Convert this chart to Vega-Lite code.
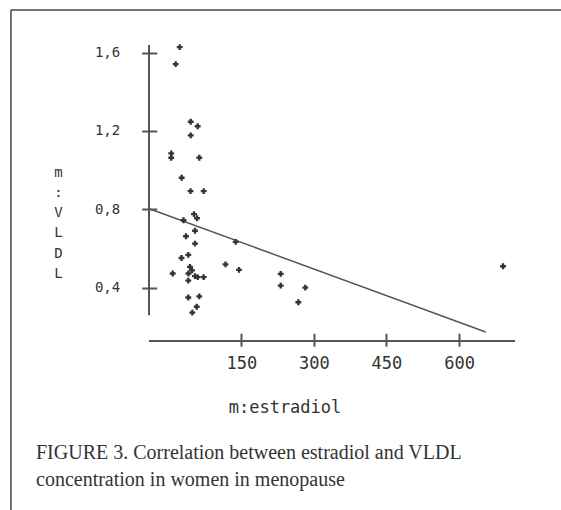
{
  "$schema": "https://vega.github.io/schema/vega-lite/v6.json",
  "width": 366,
  "height": 296,
  "autosize": {"type": "none"},
  "padding": {"left": 149, "top": 45, "right": 46, "bottom": 169},
  "background": "white",
  "config": {"view": {"stroke": null}},
  "title": {
    "text": ["FIGURE 3. Correlation between estradiol and VLDL", "concentration in women in menopause"],
    "orient": "bottom",
    "anchor": "start",
    "frame": "group",
    "font": "Liberation Serif",
    "fontSize": 20,
    "fontWeight": "normal",
    "color": "#333333",
    "lineHeight": 27,
    "dx": -113,
    "offset": 0,
    "dy": -68
  },
  "datasets": {
    "points": [
      {"estradiol": 22.7, "vldl": 1.628},
      {"estradiol": 14.5, "vldl": 1.541},
      {"estradiol": 45.5, "vldl": 1.247},
      {"estradiol": 59.9, "vldl": 1.224},
      {"estradiol": 45.5, "vldl": 1.177},
      {"estradiol": 5.2, "vldl": 1.085},
      {"estradiol": 5.2, "vldl": 1.063},
      {"estradiol": 63.2, "vldl": 1.063},
      {"estradiol": 26.9, "vldl": 0.961},
      {"estradiol": 45.1, "vldl": 0.893},
      {"estradiol": 72.3, "vldl": 0.893},
      {"estradiol": 52.3, "vldl": 0.775},
      {"estradiol": 58.5, "vldl": 0.754},
      {"estradiol": 30.6, "vldl": 0.744},
      {"estradiol": 54.4, "vldl": 0.69},
      {"estradiol": 35.8, "vldl": 0.662},
      {"estradiol": 54.4, "vldl": 0.624},
      {"estradiol": 138.5, "vldl": 0.633},
      {"estradiol": 40.5, "vldl": 0.567},
      {"estradiol": 26.5, "vldl": 0.551},
      {"estradiol": 44.0, "vldl": 0.506},
      {"estradiol": 48.2, "vldl": 0.488},
      {"estradiol": 40.9, "vldl": 0.472},
      {"estradiol": 8.3, "vldl": 0.472},
      {"estradiol": 54.4, "vldl": 0.458},
      {"estradiol": 59.9, "vldl": 0.453},
      {"estradiol": 72.3, "vldl": 0.453},
      {"estradiol": 40.5, "vldl": 0.435},
      {"estradiol": 117.4, "vldl": 0.518},
      {"estradiol": 145.3, "vldl": 0.49},
      {"estradiol": 231.5, "vldl": 0.47},
      {"estradiol": 231.5, "vldl": 0.41},
      {"estradiol": 282.3, "vldl": 0.4},
      {"estradiol": 267.9, "vldl": 0.325},
      {"estradiol": 691.0, "vldl": 0.509},
      {"estradiol": 40.5, "vldl": 0.349},
      {"estradiol": 63.2, "vldl": 0.355},
      {"estradiol": 57.9, "vldl": 0.302},
      {"estradiol": 48.8, "vldl": 0.272}
    ],
    "fit": [
      {"estradiol": -38.7, "vldl": 0.8015},
      {"estradiol": 655.2, "vldl": 0.173}
    ],
    "one": [{}]
  },
  "layer": [
    {
      "data": {"name": "one"},
      "mark": {"type": "rule", "color": "#444444", "strokeWidth": 1.5},
      "encoding": {
        "x": {"datum": -326, "type": "quantitative", "scale": {"domain": [-40.7, 715.7], "nice": false, "zero": false}},
        "y": {"datum": 1.818, "type": "quantitative", "scale": {"domain": [0.127, 1.639], "nice": false, "zero": false}},
        "y2": {"datum": -0.74}
      }
    },
    {
      "data": {"name": "one"},
      "mark": {"type": "rule", "color": "#444444", "strokeWidth": 1.5},
      "encoding": {
        "x": {"datum": -326, "type": "quantitative", "scale": {"domain": [-40.7, 715.7], "nice": false, "zero": false}},
        "x2": {"datum": 811},
        "y": {"datum": 1.818, "type": "quantitative", "scale": {"domain": [0.127, 1.639], "nice": false, "zero": false}}
      }
    },
    {
      "data": {"name": "one"},
      "mark": {"type": "rule", "color": "#555555", "strokeWidth": 2},
      "encoding": {
        "x": {"datum": -40.7, "type": "quantitative", "scale": {"domain": [-40.7, 715.7], "nice": false, "zero": false}},
        "y": {"datum": 0.258, "type": "quantitative", "scale": {"domain": [0.127, 1.639], "nice": false, "zero": false}},
        "y2": {"datum": 1.639}
      }
    },
    {
      "data": {"name": "one"},
      "mark": {"type": "rule", "color": "#555555", "strokeWidth": 2},
      "encoding": {
        "x": {"datum": -40.7, "type": "quantitative", "scale": {"domain": [-40.7, 715.7], "nice": false, "zero": false}},
        "x2": {"datum": 715.7},
        "y": {"datum": 0.127, "type": "quantitative", "scale": {"domain": [0.127, 1.639], "nice": false, "zero": false}}
      }
    },
    {
      "data": {"name": "fit"},
      "mark": {"type": "line", "color": "#555555", "strokeWidth": 1.5},
      "encoding": {
        "x": {"field": "estradiol", "type": "quantitative", "scale": {"domain": [-40.7, 715.7], "nice": false, "zero": false}},
        "y": {"field": "vldl", "type": "quantitative", "scale": {"domain": [0.127, 1.639], "nice": false, "zero": false}}
      }
    },
    {
      "data": {"name": "points"},
      "mark": {"type": "point", "shape": "cross", "filled": true, "size": 34, "color": "#333333", "opacity": 1},
      "encoding": {
        "x": {
          "field": "estradiol", "type": "quantitative",
          "scale": {"domain": [-40.7, 715.7], "nice": false, "zero": false},
          "axis": {
            "values": [150, 300, 450, 600],
            "domain": false, "grid": false,
            "offset": -7.7, "tickSize": 13, "tickWidth": 2, "tickColor": "#555555",
            "labelFont": "DejaVu Sans Mono", "labelFontSize": 17, "labelColor": "#333333", "labelPadding": 9,
            "title": "m:estradiol",
            "titleFont": "DejaVu Sans Mono", "titleFontSize": 17, "titleFontWeight": "normal", "titleColor": "#333333",
            "titleAlign": "center", "titleBaseline": "alphabetic", "titleX": 135.5, "titleY": 79
          }
        },
        "y": {
          "field": "vldl", "type": "quantitative",
          "scale": {"domain": [0.127, 1.639], "nice": false, "zero": false},
          "axis": {
            "values": [0.4, 0.8, 1.2, 1.6],
            "labelExpr": "replace(format(datum.value, '.1f'), '.', ',')",
            "domain": false, "grid": false,
            "offset": -7.7, "tickSize": 15, "tickWidth": 2, "tickColor": "#555555",
            "labelFont": "DejaVu Sans Mono", "labelFontSize": 14, "labelColor": "#333333", "labelPadding": 22,
            "title": ["m", ":", "V", "L", "D", "L"],
            "titleFont": "DejaVu Sans Mono", "titleFontSize": 14, "titleFontWeight": "normal", "titleColor": "#333333",
            "titleAngle": 0, "titleAlign": "center", "titleBaseline": "alphabetic",
            "titleX": -98.7, "titleY": 131, "titleLineHeight": 20.3
          }
        }
      }
    }
  ]
}
